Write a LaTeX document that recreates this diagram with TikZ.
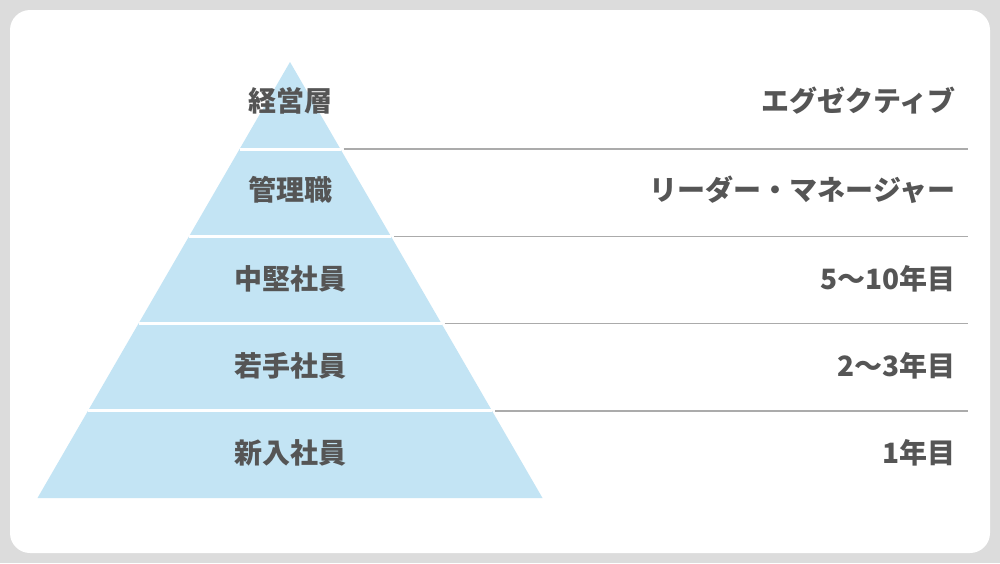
\documentclass[tikz,border=0pt]{standalone}
\usepackage{fontspec}
\setmainfont{Noto Sans CJK JP}
\definecolor{bggray}{HTML}{DCDCDC}
\definecolor{pyramidblue}{HTML}{C3E4F4}
\definecolor{rulegray}{HTML}{ABABAB}
\definecolor{labelgray}{HTML}{555555}

\begin{document}
\begin{tikzpicture}[x=1pt, y=-1pt,
   divider/.style={draw=white, line width=3pt},
   rule/.style={draw=rulegray, line width=1.5pt},
   level/.style={font=\fontsize{28}{32}\selectfont\bfseries, text=labelgray, inner sep=0pt},
   years/.style={level, anchor=east}]
\fill[bggray] (0,0) rectangle (1000,563);
\fill[white, rounded corners=20pt] (10,10) rectangle (990,553);

% pyramid
\coordinate (apex) at (290,62);
\coordinate (baseL) at (37.5,498);
\coordinate (baseR) at (542.5,498);
\fill[pyramidblue] (apex) -- (baseR) -- (baseL) -- cycle;

\foreach \i in {1,...,4} {
  \pgfmathsetmacro\yy{62+87.2*\i}
  \pgfmathsetmacro\hw{252.5*\i/5}
  \coordinate (l\i) at (290-\hw,\yy);
  \coordinate (r\i) at (290+\hw,\yy);
  \coordinate (g\i) at (293+\hw,\yy);
  \coordinate (e\i) at (968,\yy);
  \draw[divider] (l\i) -- (r\i);
  \draw[rule] (g\i) -- (e\i);
}

\node[level] (keiei) at (290,101) {経営層};
\node[level] (kanri) at (290,190) {管理職};
\node[level] (chuken) at (290,279) {中堅社員};
\node[level] (wakate) at (290,366) {若手社員};
\node[level] (shinnyu) at (290,453) {新入社員};

\node[years] (exec) at (956,101) {エグゼクティブ};
\node[years] (leader) at (956,190) {リーダー・マネージャー};
\node[years] (mid) at (956,279) {5〜10年目};
\node[years] (young) at (956,366) {2〜3年目};
\node[years] (first) at (956,453) {1年目};

\end{tikzpicture}
\end{document}
